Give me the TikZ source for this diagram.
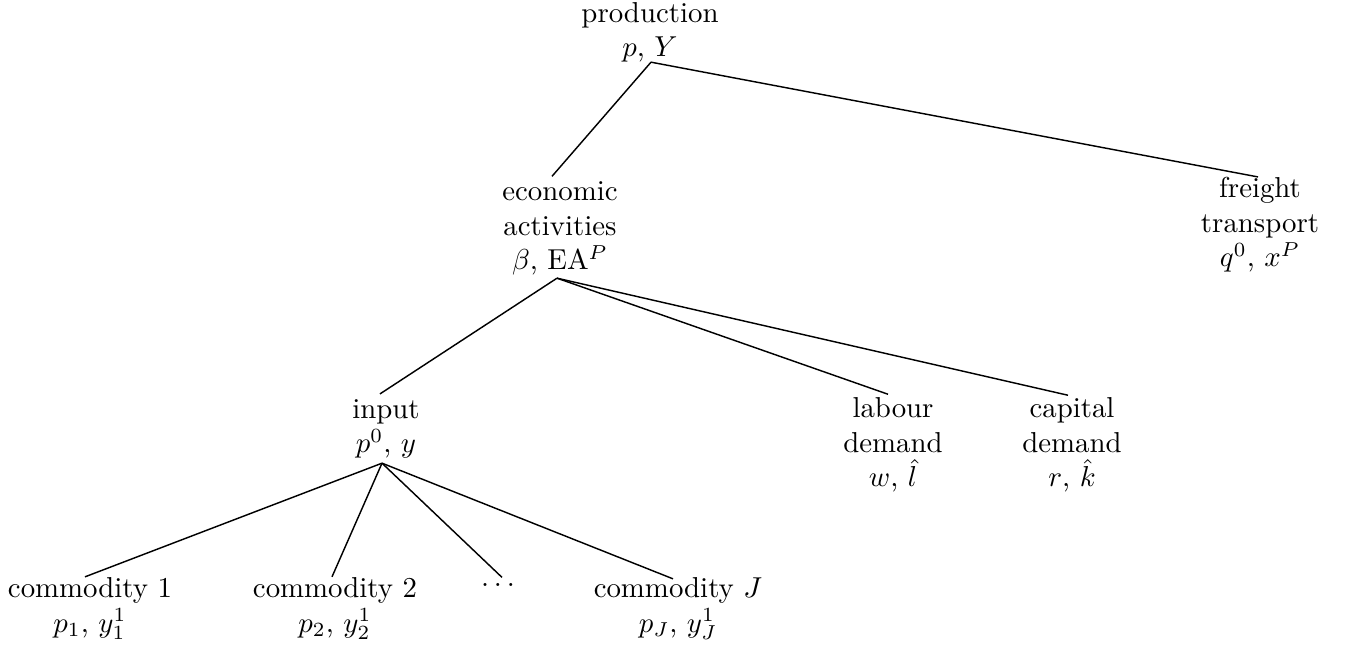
\documentclass[tikz,border=0pt]{standalone}
\usetikzlibrary{calc}
\begin{document}
\begin{tikzpicture}[x=0.347pt,y=-0.347pt,
  lbl/.style={align=center,anchor=base,inner sep=0pt,font=\normalsize},
  edge/.style={line width=0.5pt}]
\useasboundingbox (0,0) rectangle (1357,658);
\node[lbl] (prod) at (650,57) {production\\$p$, $Y$};
\node[lbl] (ea) at (560,270) {economic\\activities\\$\beta$, EA$^P$};
\node[lbl] (fr) at (1260,267) {freight\\transport\\$q^0$, $x^P$};
\node[lbl] (inp) at (386,453) {input\\$p^0$, $y$};
\node[lbl] (lab) at (893,487) {labour\\demand\\$w$, $\hat{l}$};
\node[lbl] (cap) at (1072,487) {capital\\demand\\$r$, $\hat{k}$};
\node[lbl] (c1) at (90,632) {commodity 1\\$p_1$, $y^1_1$};
\node[lbl] (c2) at (335,632) {commodity 2\\$p_2$, $y^1_2$};
\node[lbl] (dots) at (498,587) {$\ldots$};
\node[lbl] (cJ) at (678,632) {commodity $J$\\$p_J$, $y^1_J$};
\coordinate (prodB) at ($(prod.south)+(1,-1)$);
\coordinate (eaB) at ($(ea.south)+(-3,2)$);
\coordinate (inpB) at ($(inp.south)+(-4,4)$);
\draw[edge] (prodB) -- ($(ea.north)+(-8,-5)$);
\draw[edge] (prodB) -- ($(fr.north)+(-2,0)$);
\draw[edge] (eaB) -- ($(inp.north)+(-6,-5)$);
\draw[edge] (eaB) -- ($(lab.north)+(-5,-3)$);
\draw[edge] (eaB) -- ($(cap.north)+(-4,-2)$);
\draw[edge] (inpB) -- ($(c1.north)+(-5,0)$);
\draw[edge] (inpB) -- ($(c2.north)+(-3,0)$);
\draw[edge] (inpB) -- ($(dots.north)+(4,-6)$);
\draw[edge] (inpB) -- ($(cJ.north)+(-5,2)$);
\end{tikzpicture}
\end{document}
